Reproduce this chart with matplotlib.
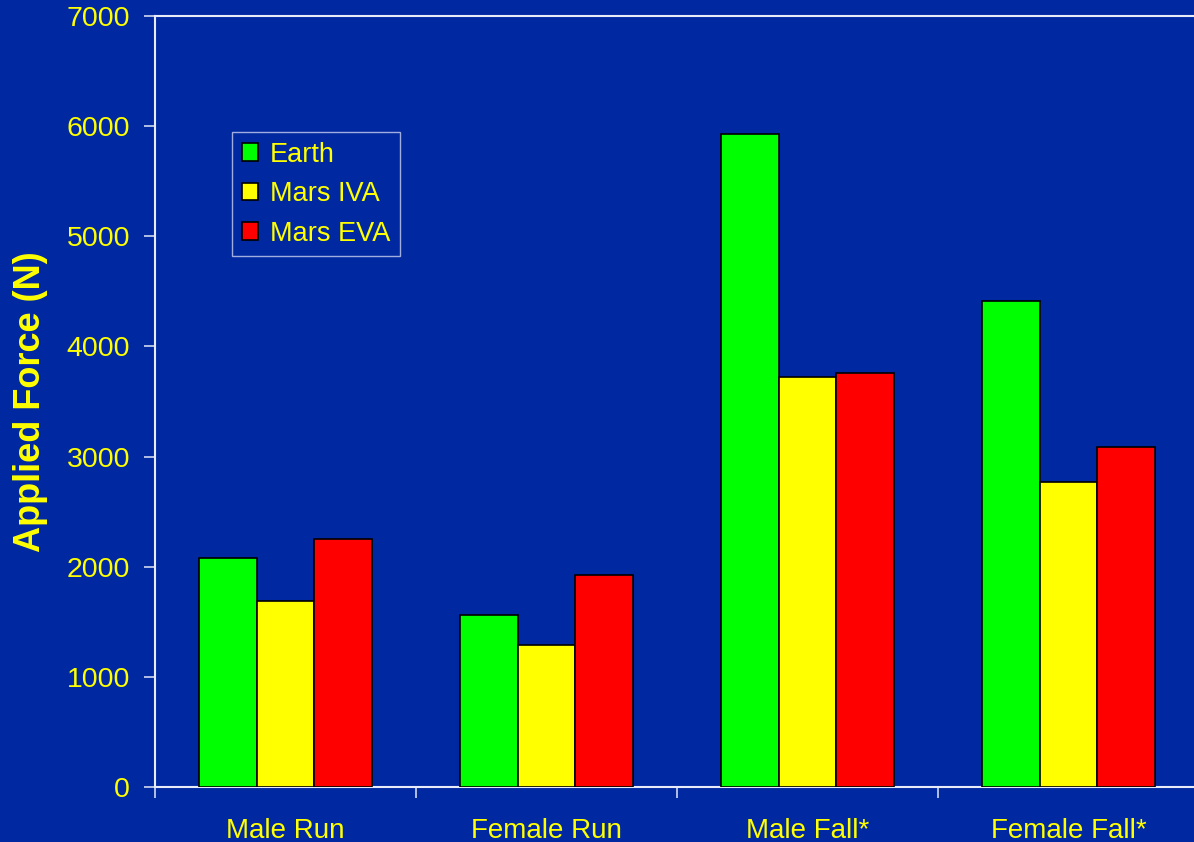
import matplotlib
matplotlib.use("Agg")
import matplotlib.pyplot as plt
import numpy as np

plt.rcParams['font.family'] = ['Liberation Sans', 'DejaVu Sans']

categories = ["Male Run", "Female Run", "Male Fall*", "Female Fall*"]
series_names = ["Earth", "Mars IVA", "Mars EVA"]
earth = [2080, 1565, 5925, 4415]
mars_iva = [1690, 1290, 3725, 2770]
mars_eva = [2250, 1925, 3755, 3085]
colors = ["#00FF00", "#FFFF00", "#FF0000"]
y_ticks = [0, 1000, 2000, 3000, 4000, 5000, 6000, 7000]

bg = "#0028A0"
yellow = "#FFFF00"

fig = plt.figure(figsize=(11.94, 8.42), dpi=100, facecolor=bg)
ax = fig.add_axes([155 / 1194, (842 - 787) / 842, 1044 / 1194, 771 / 842])
ax.set_facecolor(bg)

x = np.arange(len(categories))
width = 0.221
for i, (vals, name, c) in enumerate(zip([earth, mars_iva, mars_eva], series_names, colors)):
    ax.bar(x + (i - 1) * width, vals, width, color=c, edgecolor="black",
           linewidth=1.2, label=name, zorder=3)

ax.set_xlim(-0.5, len(categories) - 0.5)
ax.set_ylim(0, 7000)
ax.set_yticks(y_ticks)
ax.set_yticklabels([str(v) for v in y_ticks])
ax.set_xticks(x)
ax.set_xticklabels(categories)
ax.set_xticks(np.arange(len(categories)) - 0.5, minor=True)

ax.tick_params(axis="x", which="major", length=0, pad=22, labelsize=20, labelcolor=yellow)
ax.tick_params(axis="x", which="minor", length=8, width=1.2, color="#D0D8F0", direction="out")
ax.tick_params(axis="y", which="major", length=8, width=1.2, color="#D0D8F0", direction="out",
               pad=10, labelsize=20.5, labelcolor=yellow)

for side in ["left", "bottom", "top"]:
    ax.spines[side].set_color("#E8ECF8")
    ax.spines[side].set_linewidth(1.5)
ax.spines["right"].set_visible(False)

ax.set_ylabel("Applied Force (N)", color=yellow, fontsize=26, fontweight="bold")
ax.yaxis.set_label_coords(-0.1025, 0.5)

leg = ax.legend(loc="upper left", bbox_to_anchor=(0.074, 0.8495), borderaxespad=0,
                fontsize=19.5, frameon=True, fancybox=False, handlelength=0.6,
                handleheight=0.6, handletextpad=0.45, labelspacing=0.5,
                borderpad=0.35)
leg.get_frame().set_facecolor(bg)
leg.get_frame().set_edgecolor("#C8D0F0")
leg.get_frame().set_linewidth(1.0)
for t in leg.get_texts():
    t.set_color(yellow)

fig.savefig("out.png", dpi=100, facecolor=bg)
